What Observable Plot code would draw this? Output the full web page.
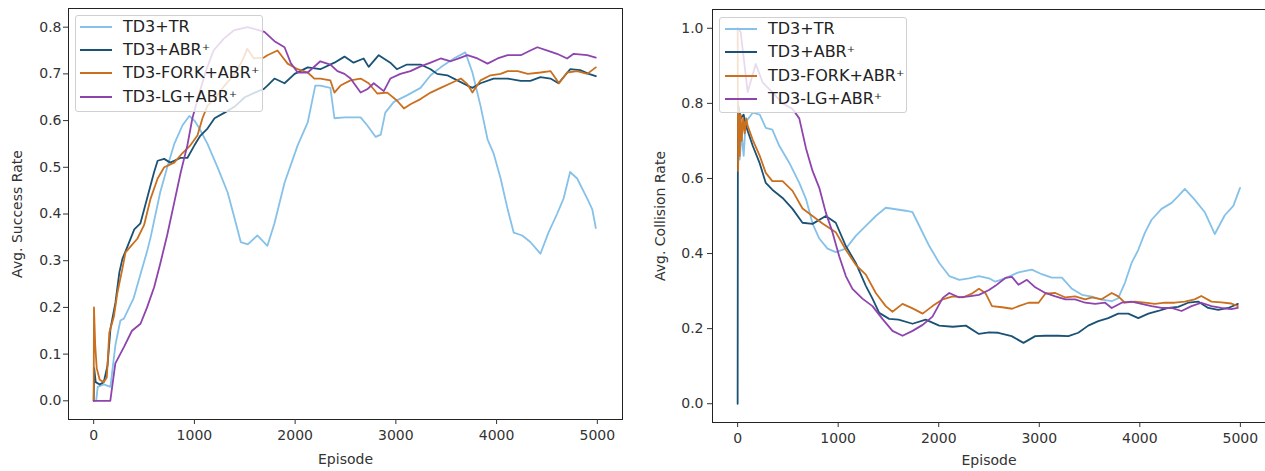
<!DOCTYPE html>
<html><head><meta charset="utf-8">
<script src="https://cdn.jsdelivr.net/npm/d3@7"></script>
<script src="https://cdn.jsdelivr.net/npm/@observablehq/plot@0.6"></script>
<style>
body{margin:0;background:#fff;}
#wrap{position:relative;width:1265px;height:471px;overflow:hidden;background:#fff;font-family:"DejaVu Sans",sans-serif;}
.panel{position:absolute;top:0;}
.legend{position:absolute;background:rgba(255,255,255,0.8);border:1px solid #d0d0d0;border-radius:3px;box-sizing:border-box;}
.legend .sw{position:absolute;height:2px;}
.legend .lb{position:absolute;font-size:16px;line-height:16px;color:#222;white-space:nowrap;}
</style>
</head><body>
<div id="wrap"></div>
<script>
// ---- data ----
const seriesNames = ["TD3+TR", "TD3+ABR\u207A", "TD3-FORK+ABR\u207A", "TD3-LG+ABR\u207A"];
const seriesColors = ["#85C1E9", "#1A5276", "#CA6F1E", "#8E44AD"];
const xTicks = [0, 1000, 2000, 3000, 4000, 5000];
const ySuccessTicks = [0, 0.1, 0.2, 0.3, 0.4, 0.5, 0.6, 0.7, 0.8];
const yCollisionTicks = [0, 0.2, 0.4, 0.6, 0.8, 1.0];

// Avg. Success Rate  [episode, value]
const sucTR = [[25,0],[40,0.03],[100,0.035],[166,0.03],[216,0.12],[265,0.172],[300,0.176],[397,0.22],[463,0.27],[530,0.32],[565,0.35],[660,0.446],[730,0.50],[800,0.55],[882,0.59],[950,0.61],[1000,0.60],[1050,0.583],[1130,0.55],[1230,0.50],[1330,0.446],[1400,0.39],[1460,0.34],[1530,0.335],[1625,0.354],[1725,0.332],[1795,0.38],[1895,0.467],[2025,0.547],[2125,0.596],[2200,0.675],[2250,0.675],[2350,0.67],[2390,0.605],[2490,0.607],[2650,0.607],[2715,0.59],[2800,0.565],[2850,0.57],[2895,0.617],[2980,0.64],[3110,0.654],[3245,0.67],[3345,0.697],[3445,0.714],[3575,0.733],[3690,0.746],[3760,0.703],[3840,0.632],[3910,0.56],[3970,0.53],[4040,0.476],[4110,0.41],[4170,0.36],[4255,0.354],[4335,0.34],[4435,0.315],[4515,0.36],[4600,0.40],[4665,0.433],[4730,0.49],[4800,0.476],[4900,0.433],[4950,0.41],[4985,0.37]];
const sucABR = [[0,0],[5,0.07],[20,0.04],[60,0.035],[100,0.04],[137,0.075],[167,0.155],[216,0.21],[255,0.275],[285,0.304],[335,0.33],[403,0.367],[464,0.38],[530,0.433],[600,0.49],[635,0.514],[700,0.518],[760,0.51],[860,0.52],[930,0.52],[1000,0.547],[1060,0.568],[1130,0.583],[1200,0.605],[1300,0.617],[1400,0.63],[1500,0.65],[1600,0.66],[1690,0.668],[1725,0.675],[1795,0.69],[1895,0.68],[1995,0.70],[2125,0.714],[2250,0.71],[2390,0.724],[2490,0.737],[2580,0.724],[2680,0.733],[2730,0.715],[2830,0.74],[2945,0.724],[3010,0.71],[3110,0.72],[3245,0.72],[3345,0.71],[3410,0.70],[3510,0.697],[3610,0.686],[3710,0.675],[3760,0.67],[3840,0.68],[3970,0.69],[4110,0.69],[4240,0.685],[4335,0.685],[4435,0.693],[4535,0.69],[4615,0.68],[4730,0.71],[4830,0.708],[4915,0.70],[4985,0.695]];
const sucFORK = [[0,0],[3,0.2],[15,0.12],[30,0.07],[60,0.045],[100,0.04],[130,0.05],[137,0.075],[155,0.146],[200,0.18],[236,0.232],[285,0.283],[316,0.318],[365,0.33],[433,0.347],[500,0.376],[565,0.433],[635,0.476],[700,0.50],[800,0.51],[880,0.53],[960,0.547],[1030,0.568],[1080,0.605],[1130,0.632],[1200,0.646],[1300,0.675],[1400,0.70],[1480,0.73],[1525,0.754],[1590,0.733],[1690,0.735],[1725,0.74],[1825,0.75],[1925,0.722],[2025,0.71],[2125,0.703],[2190,0.69],[2250,0.69],[2350,0.686],[2390,0.66],[2450,0.675],[2550,0.686],[2650,0.69],[2730,0.68],[2815,0.658],[2915,0.66],[3010,0.643],[3080,0.626],[3145,0.635],[3245,0.646],[3345,0.66],[3445,0.67],[3545,0.68],[3645,0.69],[3710,0.678],[3760,0.66],[3840,0.686],[3940,0.697],[4040,0.70],[4110,0.706],[4210,0.706],[4310,0.70],[4435,0.703],[4535,0.706],[4620,0.68],[4700,0.703],[4800,0.706],[4900,0.70],[4985,0.714]];
const sucLG = [[0,0],[165,0],[215,0.08],[300,0.115],[380,0.15],[465,0.165],[530,0.2],[600,0.243],[660,0.293],[730,0.355],[800,0.425],[865,0.49],[930,0.547],[980,0.605],[1050,0.66],[1120,0.71],[1190,0.75],[1290,0.775],[1390,0.793],[1525,0.80],[1620,0.795],[1695,0.79],[1795,0.77],[1895,0.757],[1955,0.724],[2025,0.703],[2125,0.703],[2250,0.727],[2350,0.72],[2420,0.706],[2490,0.70],[2550,0.69],[2650,0.66],[2715,0.667],[2780,0.68],[2880,0.663],[2945,0.69],[3045,0.70],[3145,0.706],[3245,0.716],[3345,0.724],[3445,0.733],[3545,0.727],[3645,0.735],[3710,0.74],[3810,0.733],[3910,0.722],[4010,0.733],[4110,0.74],[4240,0.74],[4335,0.75],[4405,0.757],[4505,0.75],[4600,0.743],[4700,0.733],[4765,0.743],[4900,0.74],[4985,0.735]];

// Avg. Collision Rate  [episode, value]
const colTR = [[0,0.8],[20,0.65],[40,0.72],[60,0.66],[80,0.75],[150,0.775],[220,0.77],[280,0.735],[345,0.73],[414,0.687],[513,0.642],[613,0.588],[680,0.545],[745,0.48],[812,0.44],[894,0.413],[976,0.404],[1076,0.413],[1175,0.447],[1275,0.474],[1374,0.5],[1473,0.522],[1573,0.518],[1672,0.514],[1740,0.51],[1806,0.474],[1906,0.42],[2005,0.375],[2105,0.34],[2205,0.33],[2300,0.334],[2400,0.34],[2500,0.334],[2563,0.325],[2660,0.334],[2793,0.35],[2926,0.357],[3025,0.345],[3125,0.336],[3225,0.336],[3325,0.306],[3424,0.29],[3524,0.285],[3620,0.277],[3720,0.273],[3785,0.281],[3852,0.322],[3918,0.375],[3985,0.41],[4050,0.455],[4117,0.49],[4216,0.519],[4316,0.535],[4382,0.553],[4448,0.572],[4547,0.543],[4646,0.51],[4746,0.452],[4845,0.502],[4930,0.527],[4997,0.575]];
const colABR = [[0,0],[3,0.8],[30,0.76],[60,0.77],[83,0.74],[150,0.687],[220,0.64],[280,0.588],[345,0.57],[447,0.548],[546,0.519],[645,0.482],[745,0.479],[877,0.50],[976,0.482],[1076,0.42],[1175,0.375],[1275,0.314],[1341,0.28],[1408,0.242],[1507,0.226],[1600,0.224],[1740,0.213],[1870,0.224],[2005,0.208],[2140,0.205],[2270,0.208],[2400,0.186],[2500,0.19],[2593,0.189],[2725,0.18],[2843,0.162],[2960,0.18],[3060,0.181],[3190,0.181],[3290,0.18],[3388,0.189],[3487,0.208],[3587,0.22],[3686,0.228],[3785,0.24],[3885,0.24],[3985,0.228],[4085,0.24],[4183,0.247],[4283,0.255],[4382,0.258],[4481,0.269],[4580,0.272],[4680,0.255],[4780,0.25],[4880,0.255],[4975,0.266]];
const colFORK = [[0,1.0],[5,0.62],[10,0.78],[20,0.66],[30,0.77],[40,0.70],[55,0.76],[70,0.72],[85,0.76],[100,0.74],[150,0.703],[220,0.66],[280,0.615],[345,0.593],[447,0.593],[546,0.567],[645,0.52],[745,0.50],[844,0.48],[976,0.457],[1076,0.41],[1175,0.37],[1275,0.344],[1374,0.295],[1473,0.26],[1540,0.245],[1640,0.266],[1740,0.254],[1840,0.24],[1938,0.26],[2040,0.278],[2140,0.286],[2240,0.283],[2335,0.294],[2400,0.306],[2464,0.295],[2530,0.26],[2630,0.257],[2730,0.253],[2795,0.26],[2893,0.269],[2993,0.269],[3060,0.293],[3160,0.295],[3260,0.283],[3357,0.286],[3457,0.278],[3524,0.283],[3620,0.278],[3720,0.295],[3785,0.286],[3852,0.269],[3950,0.272],[4050,0.269],[4150,0.266],[4250,0.269],[4347,0.269],[4447,0.272],[4545,0.278],[4612,0.287],[4712,0.272],[4810,0.27],[4910,0.267],[4975,0.26]];
const colLG = [[0,1.0],[30,0.99],[100,0.83],[180,0.905],[250,0.855],[345,0.83],[447,0.80],[546,0.785],[613,0.76],[680,0.68],[745,0.62],[812,0.575],[877,0.509],[943,0.457],[1010,0.393],[1076,0.34],[1142,0.306],[1241,0.28],[1341,0.26],[1440,0.226],[1540,0.194],[1640,0.181],[1740,0.194],[1840,0.21],[1938,0.232],[2040,0.282],[2105,0.295],[2205,0.283],[2300,0.286],[2400,0.29],[2500,0.303],[2563,0.314],[2662,0.335],[2728,0.338],[2793,0.317],[2877,0.33],[2960,0.31],[3060,0.295],[3160,0.286],[3260,0.278],[3357,0.278],[3457,0.269],[3556,0.266],[3655,0.269],[3720,0.255],[3820,0.269],[3918,0.272],[4017,0.266],[4117,0.26],[4216,0.255],[4316,0.255],[4415,0.247],[4514,0.26],[4612,0.269],[4712,0.26],[4810,0.255],[4910,0.252],[4975,0.255]];

// ---- drawing ----
const wrap = document.getElementById("wrap");
const fmt1 = d3.format(".1f");
const fmtInt = d3.format("d");

function makePanel(cfg) {
  const lines = cfg.series.map((s, i) =>
    Plot.line(s, {x: d => d[0], y: d => d[1], stroke: seriesColors[i], strokeWidth: 1.8, strokeLinejoin: "round"})
  );
  const chart = Plot.plot({
    width: cfg.width, height: 471,
    marginLeft: cfg.ml, marginRight: cfg.mr, marginTop: cfg.mt, marginBottom: cfg.mb,
    style: {fontFamily: "DejaVu Sans, sans-serif", fontSize: "14px", color: "#333", background: "transparent"},
    x: {domain: [-250, 5250]},
    y: {domain: cfg.ydomain},
    marks: [
      Plot.frame({stroke: "#222", strokeWidth: 1}),
      Plot.axisX({ticks: xTicks, tickFormat: fmtInt, tickSize: 5, tickPadding: 6, label: "Episode", labelAnchor: "center", labelArrow: "none", labelOffset: cfg.xlo}),
      Plot.axisY({ticks: cfg.yticks, tickFormat: fmt1, tickSize: 5, tickPadding: cfg.tp, label: cfg.ylabel, labelAnchor: "center", labelArrow: "none", labelOffset: cfg.lo}),
      ...lines
    ]
  });
  const div = document.createElement("div");
  div.className = "panel";
  div.style.left = cfg.left + "px";
  div.appendChild(chart);
  wrap.appendChild(div);
}

function makeLegend(left, top, w, h, lineX, textX, rowY) {
  const lg = document.createElement("div");
  lg.className = "legend";
  Object.assign(lg.style, {left: left + "px", top: top + "px", width: w + "px", height: h + "px"});
  seriesNames.forEach((name, i) => {
    const sw = document.createElement("div");
    sw.className = "sw";
    Object.assign(sw.style, {left: lineX + "px", width: "32px", top: (rowY[i] - 1) + "px", background: seriesColors[i]});
    lg.appendChild(sw);
    const lb = document.createElement("div");
    lb.className = "lb";
    lb.textContent = name;
    Object.assign(lb.style, {left: textX + "px", top: (rowY[i] - 8) + "px"});
    lg.appendChild(lb);
  });
  wrap.appendChild(lg);
}

makePanel({left: 0, width: 635, ml: 68, mr: 13, mt: 8, mb: 52, ydomain: [-0.04, 0.84], yticks: ySuccessTicks, ylabel: "Avg. Success Rate", lo: 56, tp: 2, xlo: 44, series: [sucTR, sucABR, sucFORK, sucLG]});
makePanel({left: 635, width: 630, ml: 77, mr: 0, mt: 9, mb: 49, ydomain: [-0.05, 1.05], yticks: yCollisionTicks, ylabel: "Avg. Collision Rate", lo: 57, tp: 4, xlo: 42, series: [colTR, colABR, colFORK, colLG]});
makeLegend(75, 15, 188, 97, 4, 47, [11, 34, 57, 81]);
makeLegend(719, 17, 188, 96, 5, 48, [11, 34, 58, 81]);
</script>
</body></html>
